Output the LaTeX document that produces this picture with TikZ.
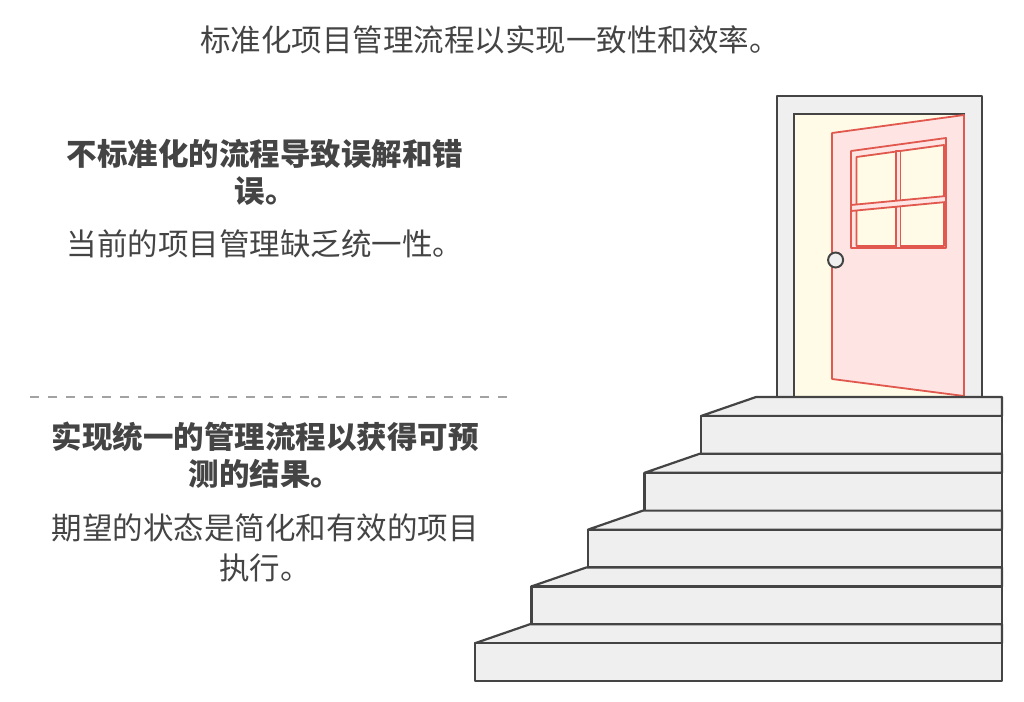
\documentclass[tikz,border=0pt]{standalone}
\usepackage{fontspec}
\setmainfont{Noto Sans CJK SC}
\usetikzlibrary{positioning}
\definecolor{ink}{HTML}{444444}
\definecolor{stepgray}{HTML}{EFEFEF}
\definecolor{doorred}{HTML}{E0584E}
\definecolor{doorpink}{HTML}{FFE4E4}
\definecolor{glow}{HTML}{FFFBE6}
\tikzset{%
	title/.style   = {text=ink, font=\fontsize{30.5}{36}\selectfont}, % top line
	head/.style    = {text=ink, font=\fontsize{30.5}{37}\selectfont\bfseries, align=center},
	body/.style    = {text=ink, font=\fontsize{30.5}{40}\selectfont, align=center},
	stone/.style   = {draw=ink, fill=stepgray, line width=2.2pt, line join=round},
	leaf/.style    = {draw=doorred, line width=1.8pt, line join=round},
}
\begin{document}
\begin{tikzpicture}[x=1pt, y=-1pt]
	\useasboundingbox (0,0) rectangle (1024,701);
	% texts
	\node[title] (ttl) at (490,40) {标准化项目管理流程以实现一致性和效率。};
	\node[head] (h1) at (265,172) {不标准化的流程导致误解和错\\误。};
	\node[body, below=18pt of h1] (b1) {当前的项目管理缺乏统一性。};
	\coordinate (dl) at (30,397);
	\coordinate (dr) at (512,397);
	\draw[draw=ink!50, line width=1.5pt, dash pattern=on 9pt off 9pt] (dl) -- (dr);
	\node[head] (h2) at (265,455) {实现统一的管理流程以获得可预\\测的结果。};
	\node[body, below=18pt of h2] (b2) {期望的状态是简化和有效的项目\\执行。};
	% door
	\draw[stone] (777,96) rectangle (982,397);
	\draw[draw=ink, fill=glow, line width=2.2pt] (794,114) rectangle (964,397);
	\draw[leaf, fill=doorpink] (832,133) -- (964,115) -- (964,396) -- (832,379) -- cycle;
	\draw[leaf, fill=doorpink] (851,151) -- (946,138) -- (946,248) -- (851,248) -- cycle;
	\draw[leaf, fill=glow] (856.5,157) -- (944,145) -- (944,246) -- (856.5,246) -- cycle;
	\draw[leaf, fill=doorpink] (895.8,151) rectangle (900.5,248);
	\draw[leaf, fill=doorpink] (851,205) -- (946,196) -- (946,202) -- (851,211) -- cycle;
	\draw[draw=ink, fill=stepgray, line width=2pt] (835.6,260) circle (7.5);
	% stairs
	\foreach \i in {0,...,4} {
		\pgfmathsetmacro{\yt}{397+56.8*\i}
		\pgfmathsetmacro{\yf}{\yt+19}
		\pgfmathsetmacro{\yb}{\yf+37.8}
		\pgfmathsetmacro{\xb}{756-56.5*\i}
		\pgfmathsetmacro{\xf}{\xb-55}
		\draw[stone] (\xb,\yt) -- (1002,\yt) -- (1002,\yf) -- (\xf,\yf) -- cycle;
		\draw[stone] (\xf,\yf) rectangle (1002,\yb);
	}
\end{tikzpicture}
\end{document}
